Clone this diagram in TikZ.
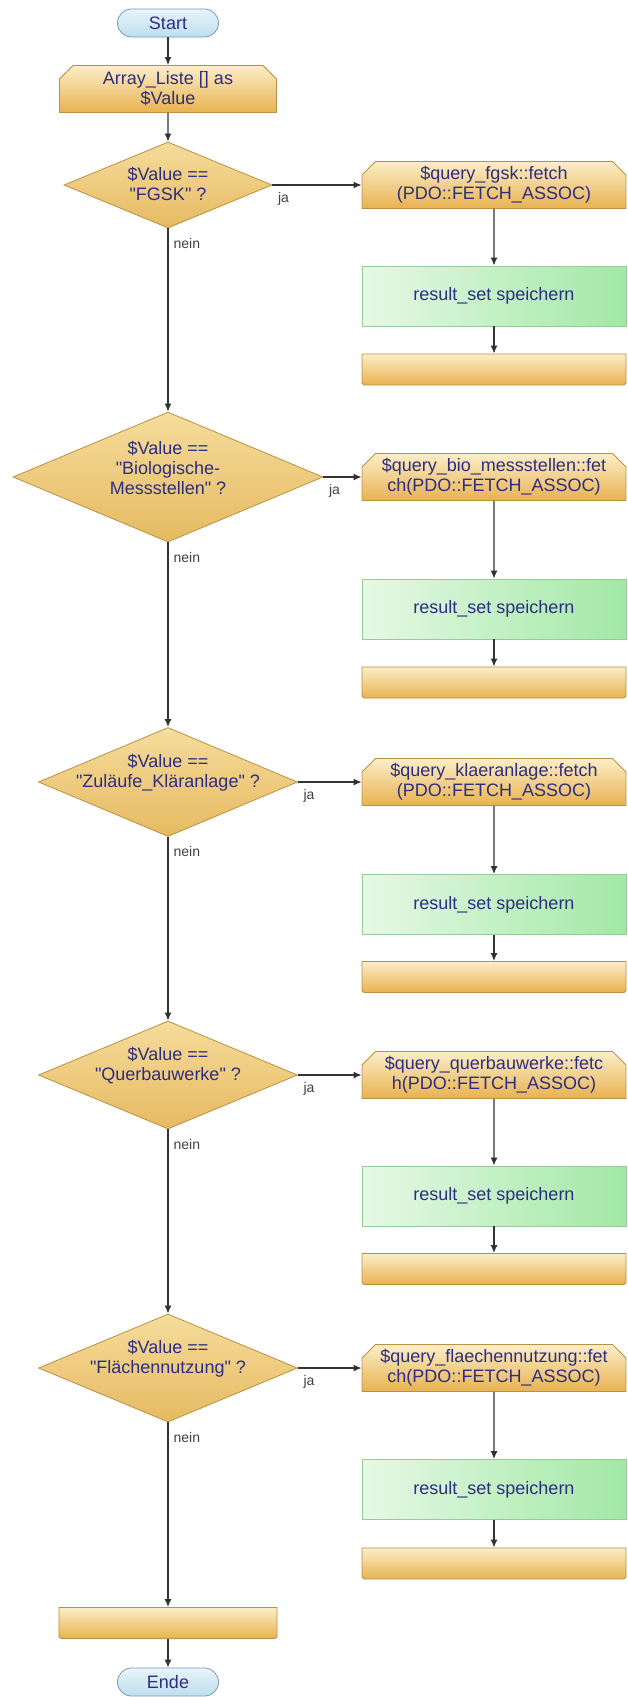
\documentclass[tikz,border=0pt]{standalone}
\usepackage{tikz}
\usepackage{xcolor}
\usepackage{fontspec}
\setmainfont{Liberation Sans}
\usetikzlibrary{shapes.geometric, shapes.misc, arrows.meta}

\definecolor{textblue}{RGB}{45,45,130}
\definecolor{goldtop}{RGB}{252,238,200}
\definecolor{goldbot}{RGB}{232,178,80}
\definecolor{goldline}{RGB}{185,145,65}
\definecolor{diatop}{RGB}{246,220,155}
\definecolor{diabot}{RGB}{230,186,98}
\definecolor{greenl}{RGB}{230,249,230}
\definecolor{greend}{RGB}{162,232,165}
\definecolor{greenline}{RGB}{150,205,150}
\definecolor{termtop}{RGB}{232,244,250}
\definecolor{termbot}{RGB}{190,222,238}
\definecolor{termline}{RGB}{125,155,180}
\definecolor{linegray}{RGB}{50,50,50}

\begin{document}
\begin{tikzpicture}[font=\fontsize{18}{20}\selectfont]
    % Define styles
    \tikzstyle{terminal} = [rectangle, rounded corners=14pt, minimum width=101pt, minimum height=28pt, align=center, draw=termline, line width=0.8pt, top color=termtop, bottom color=termbot, text=textblue]
    \tikzstyle{loopbegin} = [chamfered rectangle, chamfered rectangle corners={north west, north east}, chamfered rectangle xsep=10pt, minimum height=47pt, inner sep=1pt, align=center, draw=goldline, line width=0.8pt, top color=goldtop, bottom color=goldbot, text=textblue]
    \tikzstyle{loopend} = [chamfered rectangle, chamfered rectangle corners={south west, south east}, chamfered rectangle xsep=10pt, minimum height=31pt, inner sep=1pt, draw=goldline, line width=0.8pt, top color=goldtop, bottom color=goldbot]
    \tikzstyle{decision} = [diamond, inner sep=0pt, draw=goldline, line width=0.8pt, top color=diatop, bottom color=diabot]
    \tikzstyle{dtext} = [align=center, inner sep=0pt, text=textblue]
    \tikzstyle{process} = [rectangle, minimum width=264pt, minimum height=60pt, align=center, draw=greenline, line width=0.8pt, left color=greenl, right color=greend, text=textblue]
    \tikzstyle{answer} = [font=\fontsize{14}{16}\selectfont, text=black!75, inner sep=2pt]
    \tikzstyle{arrow} = [line width=1.3pt, draw=linegray, -{Latex[length=8pt, width=7pt]}]

    % page frame
    \useasboundingbox (-168pt,23pt) rectangle (459pt,-1674pt);

    % Main column
    \node [terminal] (start) {Start};
    \node [loopbegin, minimum width=217pt, below of=start, node distance=66pt] (liste) {Array\_Liste [] as\\\$Value};
    \node [decision, minimum width=208pt, minimum height=86pt, below of=liste, node distance=96pt,
        label={[dtext, yshift=1pt]center:{\$Value ==\\\textquotedbl FGSK\textquotedbl{} ?}}] (fgsk) {};
    \node [decision, minimum width=310pt, minimum height=130pt, below of=fgsk, node distance=292pt,
        label={[dtext, yshift=9pt]center:{\$Value ==\\\textquotedbl Biologische-\\Messstellen\textquotedbl{} ?}}] (bio) {};
    \node [decision, minimum width=259pt, minimum height=109pt, below of=bio, node distance=305pt,
        label={[dtext, yshift=9pt]center:{\$Value ==\\\textquotedbl Zuläufe\_Kläranlage\textquotedbl{} ?}}] (klaer) {};
    \node [decision, minimum width=259pt, minimum height=108pt, below of=klaer, node distance=293pt,
        label={[dtext, yshift=9pt]center:{\$Value ==\\\textquotedbl Querbauwerke\textquotedbl{} ?}}] (quer) {};
    \node [decision, minimum width=259pt, minimum height=108pt, below of=quer, node distance=293pt,
        label={[dtext, yshift=9pt]center:{\$Value ==\\\textquotedbl Flächennutzung\textquotedbl{} ?}}] (flaeche) {};
    \node [loopend, minimum width=218pt, below of=flaeche, node distance=255pt] (listeend) {};
    \node [terminal, below of=listeend, node distance=59pt] (ende) {Ende};

    % Branches on the right
    \node [loopbegin, minimum width=264pt, right of=fgsk, node distance=326pt] (fetchfgsk) {\$query\_fgsk::fetch\\(PDO::FETCH\_ASSOC)};
    \node [process, below of=fetchfgsk, node distance=111pt] (savefgsk) {result\_set speichern};
    \node [loopend, minimum width=264pt, below of=savefgsk, node distance=73.5pt] (endfgsk) {};

    \node [loopbegin, minimum width=264pt, right of=bio, node distance=326pt] (fetchbio) {\$query\_bio\_messstellen::fet\\ch(PDO::FETCH\_ASSOC)};
    \node [process, below of=fetchbio, node distance=132pt] (savebio) {result\_set speichern};
    \node [loopend, minimum width=264pt, below of=savebio, node distance=73.5pt] (endbio) {};

    \node [loopbegin, minimum width=264pt, right of=klaer, node distance=326pt] (fetchklaer) {\$query\_klaeranlage::fetch\\(PDO::FETCH\_ASSOC)};
    \node [process, below of=fetchklaer, node distance=122.5pt] (saveklaer) {result\_set speichern};
    \node [loopend, minimum width=264pt, below of=saveklaer, node distance=72.5pt] (endklaer) {};

    \node [loopbegin, minimum width=264pt, right of=quer, node distance=326pt] (fetchquer) {\$query\_querbauwerke::fetc\\h(PDO::FETCH\_ASSOC)};
    \node [process, below of=fetchquer, node distance=121pt] (savequer) {result\_set speichern};
    \node [loopend, minimum width=264pt, below of=savequer, node distance=73pt] (endquer) {};

    \node [loopbegin, minimum width=264pt, right of=flaeche, node distance=326pt] (fetchflaeche) {\$query\_flaechennutzung::fet\\ch(PDO::FETCH\_ASSOC)};
    \node [process, below of=fetchflaeche, node distance=121.5pt] (saveflaeche) {result\_set speichern};
    \node [loopend, minimum width=264pt, below of=saveflaeche, node distance=74pt] (endflaeche) {};

    % Arrows down the main column
    \draw [arrow] (start) -- (liste);
    \draw [arrow] (liste) -- (fgsk);
    \draw [arrow] (fgsk.south) -- node[answer, pos=0, anchor=north west, xshift=3pt, yshift=-7pt] {nein} (bio.north);
    \draw [arrow] (bio.south) -- node[answer, pos=0, anchor=north west, xshift=3pt, yshift=-7pt] {nein} (klaer.north);
    \draw [arrow] (klaer.south) -- node[answer, pos=0, anchor=north west, xshift=3pt, yshift=-7pt] {nein} (quer.north);
    \draw [arrow] (quer.south) -- node[answer, pos=0, anchor=north west, xshift=3pt, yshift=-7pt] {nein} (flaeche.north);
    \draw [arrow] (flaeche.south) -- node[answer, pos=0, anchor=north west, xshift=3pt, yshift=-7pt] {nein} (listeend);
    \draw [arrow] (listeend) -- (ende);

    % Arrows into the branches
    \draw [arrow] (fgsk.east) -- node[answer, pos=0, anchor=north west, xshift=3pt, yshift=-5pt] {ja} (fetchfgsk.west);
    \draw [arrow] (bio.east) -- node[answer, pos=0, anchor=north west, xshift=3pt, yshift=-5pt] {ja} (fetchbio.west);
    \draw [arrow] (klaer.east) -- node[answer, pos=0, anchor=north west, xshift=3pt, yshift=-5pt] {ja} (fetchklaer.west);
    \draw [arrow] (quer.east) -- node[answer, pos=0, anchor=north west, xshift=3pt, yshift=-5pt] {ja} (fetchquer.west);
    \draw [arrow] (flaeche.east) -- node[answer, pos=0, anchor=north west, xshift=3pt, yshift=-5pt] {ja} (fetchflaeche.west);

    % Arrows inside the branches
    \draw [arrow] (fetchfgsk) -- (savefgsk);
    \draw [arrow] (savefgsk) -- (endfgsk);
    \draw [arrow] (fetchbio) -- (savebio);
    \draw [arrow] (savebio) -- (endbio);
    \draw [arrow] (fetchklaer) -- (saveklaer);
    \draw [arrow] (saveklaer) -- (endklaer);
    \draw [arrow] (fetchquer) -- (savequer);
    \draw [arrow] (savequer) -- (endquer);
    \draw [arrow] (fetchflaeche) -- (saveflaeche);
    \draw [arrow] (saveflaeche) -- (endflaeche);
\end{tikzpicture}
\end{document}
